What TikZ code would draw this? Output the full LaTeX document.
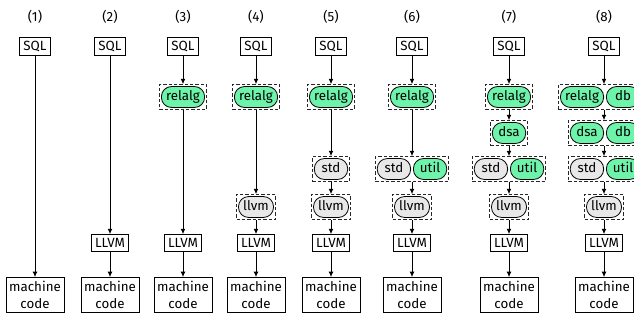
\documentclass[tikz,border=0pt]{standalone}
\usepackage{fontspec}
\setmainfont{Fira Sans}
\usetikzlibrary{arrows.meta, fit}
\definecolor{dialectgreen}{RGB}{110,243,170}
\definecolor{builtingrey}{RGB}{232,232,232}
\tikzstyle{lang} = [rectangle, draw=black, line width=0.6pt, minimum width=23.5pt, inner xsep=2.4pt, inner ysep=2.9pt, align=center]
\tikzstyle{dialect} = [rectangle, rounded corners=7.5pt, draw=black, line width=0.6pt, minimum width=25pt, minimum height=15.5pt, inner xsep=3.5pt, text height=7pt, text depth=2pt, fill=dialectgreen]
\tikzstyle{builtin} = [dialect, fill=builtingrey]
\tikzstyle{group} = [rectangle, draw=black!85, dash pattern=on 2.5pt off 1.5pt, line width=0.6pt, inner sep=1.2pt]
\tikzstyle{arrow} = [line width=0.6pt, -{Latex[length=4pt, width=3.6pt]}]

\begin{document}
\begin{tikzpicture}[x=0.75pt, y=-0.75pt, font=\fontsize{10}{12.6}\selectfont]
	\clip (0,0) rectangle (634,320);
	% column labels
	\node (n1) at (35,17) {(1)};
	\node (n2) at (110,17) {(2)};
	\node (n3) at (183,17) {(3)};
	\node (n4) at (256,17) {(4)};
	\node (n5) at (331,17) {(5)};
	\node (n6) at (412,17) {(6)};
	\node (n7) at (509,17) {(7)};
	\node (n8) at (604,17) {(8)};
	
	% (1)
	\node (sql1) [lang] at (35,46.5) {SQL};
	\node (mc1) [lang] at (35,295) {machine\\code};
	\draw [arrow] (sql1) -- (mc1);
	
	% (2)
	\node (sql2) [lang] at (110,46.5) {SQL};
	\node (cg2) [lang] at (110,243) {LLVM};
	\node (mc2) [lang] at (110,295) {machine\\code};
	\draw [arrow] (sql2) -- (cg2);
	\draw [arrow] (cg2) -- (mc2);
	
	% (3)
	\node (sql3) [lang] at (183,46.5) {SQL};
	\node (rel3) [dialect] at (183,97) {relalg};
	\node (g3r) [group, fit=(rel3)] {};
	\node (cg3) [lang] at (183,243) {LLVM};
	\node (mc3) [lang] at (183,295) {machine\\code};
	\draw [arrow] (sql3) -- (g3r);
	\draw [arrow] (g3r) -- (cg3);
	\draw [arrow] (cg3) -- (mc3);
	
	% (4)
	\node (sql4) [lang] at (256,46.5) {SQL};
	\node (rel4) [dialect] at (256,97) {relalg};
	\node (g4r) [group, fit=(rel4)] {};
	\node (ir4) [builtin] at (256,207) {llvm};
	\node (g4i) [group, fit=(ir4)] {};
	\node (cg4) [lang] at (256,243) {LLVM};
	\node (mc4) [lang] at (256,295) {machine\\code};
	\draw [arrow] (sql4) -- (g4r);
	\draw [arrow] (g4r) -- (g4i);
	\draw [arrow] (g4i) -- (cg4);
	\draw [arrow] (cg4) -- (mc4);
	
	% (5)
	\node (sql5) [lang] at (331,46.5) {SQL};
	\node (rel5) [dialect] at (331,97) {relalg};
	\node (g5r) [group, fit=(rel5)] {};
	\node (std5) [builtin] at (331,169) {std};
	\node (g5s) [group, fit=(std5)] {};
	\node (ir5) [builtin] at (331,207) {llvm};
	\node (g5i) [group, fit=(ir5)] {};
	\node (cg5) [lang] at (331,243) {LLVM};
	\node (mc5) [lang] at (331,295) {machine\\code};
	\draw [arrow] (sql5) -- (g5r);
	\draw [arrow] (g5r) -- (g5s);
	\draw [arrow] (g5s) -- (g5i);
	\draw [arrow] (g5i) -- (cg5);
	\draw [arrow] (cg5) -- (mc5);
	
	% (6)
	\node (sql6) [lang] at (412,46.5) {SQL};
	\node (rel6) [dialect] at (412,97) {relalg};
	\node (g6r) [group, fit=(rel6)] {};
	\node (std6) [builtin, anchor=east] at (411,169) {std};
	\node (util6) [dialect, anchor=west] at (413,169) {util};
	\node (g6s) [group, fit=(std6)(util6)] {};
	\node (ir6) [builtin] at (412,207) {llvm};
	\node (g6i) [group, fit=(ir6)] {};
	\node (cg6) [lang] at (412,243) {LLVM};
	\node (mc6) [lang] at (412,295) {machine\\code};
	\draw [arrow] (sql6) -- (g6r);
	\draw [arrow] (g6r) -- (g6s);
	\draw [arrow] (g6s) -- (g6i);
	\draw [arrow] (g6i) -- (cg6);
	\draw [arrow] (cg6) -- (mc6);
	
	% (7)
	\node (sql7) [lang] at (509,46.5) {SQL};
	\node (rel7) [dialect] at (509,97) {relalg};
	\node (g7r) [group, fit=(rel7)] {};
	\node (dsa7) [dialect] at (509,133) {dsa};
	\node (g7d) [group, fit=(dsa7)] {};
	\node (std7) [builtin, anchor=east] at (508,169) {std};
	\node (util7) [dialect, anchor=west] at (510,169) {util};
	\node (g7s) [group, fit=(std7)(util7)] {};
	\node (ir7) [builtin] at (509,207) {llvm};
	\node (g7i) [group, fit=(ir7)] {};
	\node (cg7) [lang] at (509,243) {LLVM};
	\node (mc7) [lang] at (509,295) {machine\\code};
	\draw [arrow] (sql7) -- (g7r);
	\draw [arrow] (g7r) -- (g7d);
	\draw [arrow] (g7d) -- (g7s);
	\draw [arrow] (g7s) -- (g7i);
	\draw [arrow] (g7i) -- (cg7);
	\draw [arrow] (cg7) -- (mc7);
	
	% (8)
	\node (sql8) [lang] at (604,46.5) {SQL};
	\node (rel8) [dialect, anchor=east] at (604,97) {relalg};
	\node (db8a) [dialect, anchor=west] at (606,97) {db};
	\node (g8r) [group, fit=(rel8)(db8a)] {};
	\node (dsa8) [dialect, anchor=east] at (604,133) {dsa};
	\node (db8b) [dialect, anchor=west] at (606,133) {db};
	\node (g8d) [group, fit=(dsa8)(db8b)] {};
	\node (std8) [builtin, anchor=east] at (604,169) {std};
	\node (util8) [dialect, anchor=west] at (606,169) {util};
	\node (g8s) [group, fit=(std8)(util8)] {};
	\node (ir8) [builtin] at (604,207) {llvm};
	\node (g8i) [group, fit=(ir8)] {};
	\node (cg8) [lang] at (604,243) {LLVM};
	\node (mc8) [lang] at (604,295) {machine\\code};
	\draw [arrow] (sql8) -- (sql8 |- g8r.north);
	\draw [arrow] (sql8 |- g8r.south) -- (sql8 |- g8d.north);
	\draw [arrow] (sql8 |- g8d.south) -- (sql8 |- g8s.north);
	\draw [arrow] (sql8 |- g8s.south) -- (g8i);
	\draw [arrow] (g8i) -- (cg8);
	\draw [arrow] (cg8) -- (mc8);
\end{tikzpicture}
\end{document}
